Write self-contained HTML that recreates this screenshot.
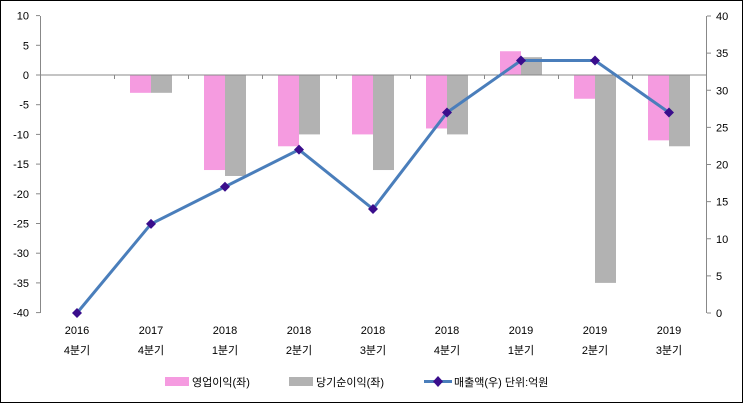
<!DOCTYPE html>
<html><head><meta charset="utf-8"><style>
body{margin:0;background:#fff}
svg text{font-family:"Liberation Sans","Noto Sans CJK KR",sans-serif;font-size:11px;fill:#000}
</style></head><body>
<svg width="743" height="403" xmlns="http://www.w3.org/2000/svg">
<rect x="0.5" y="0.5" width="742" height="402" fill="#fff" stroke="#000"/>
<g id="bars"></g>
<script>
const ns="http://www.w3.org/2000/svg",svg=document.querySelector('svg');
function el(t,a,txt){const e=document.createElementNS(ns,t);for(const k in a)e.setAttribute(k,a[k]);if(txt!==undefined)e.textContent=txt;svg.appendChild(e);return e;}
const L=v=>75-v*5.94, R=v=>313-v*7.425;
const op=[null,-3,-16,-12,-10,-9,4,-4,-11], np=[null,-3,-17,-10,-16,-10,3,-35,-12], rev=[0,12,17,22,14,27,34,34,27];
const yr=["2016","2017","2018","2018","2018","2018","2019","2019","2019"], q=["4분기","4분기","1분기","2분기","3분기","4분기","1분기","2분기","3분기"];
for(let i=0;i<9;i++){const c=77+i*74;
 if(op[i]!==null){const y1=L(op[i]);el('rect',{x:c-21,y:Math.min(y1,75),width:21,height:Math.abs(y1-75),fill:'#f59be0'});
 const y2=L(np[i]);el('rect',{x:c,y:Math.min(y2,75),width:21,height:Math.abs(y2-75),fill:'#b2b2b2'});}
 el('text',{x:c,y:334,'text-anchor':'middle'},yr[i]);
 el('text',{x:c,y:354,'text-anchor':'middle','font-size':'12'},q[i]);
}
el('line',{x1:40,y1:75,x2:707,y2:75,stroke:'#888'});
el('line',{x1:40.5,y1:16,x2:40.5,y2:313,stroke:'#888'});
el('line',{x1:706.5,y1:16,x2:706.5,y2:313,stroke:'#888'});
for(let i=1;i<9;i++)el('line',{x1:40+i*74+.5,y1:75,x2:40+i*74+.5,y2:79,stroke:'#888'});
for(let v=10;v>=-40;v-=5){const y=L(v);el('line',{x1:36,y1:y,x2:40,y2:y,stroke:'#888'});el('text',{x:29,y:y+4,'text-anchor':'end'},v);}
for(let v=0;v<=40;v+=5){const y=R(v);el('line',{x1:707,y1:y,x2:711,y2:y,stroke:'#888'});el('text',{x:716,y:y+4},v);}
el('polyline',{points:rev.map((v,i)=>(77+i*74)+','+R(v)).join(' '),fill:'none',stroke:'#4a7ebb','stroke-width':3});
rev.forEach((v,i)=>{const x=77+i*74,y=R(v);el('polygon',{points:`${x},${y-5} ${x+5},${y} ${x},${y+5} ${x-5},${y}`,fill:'#3a0d8c'});});
el('rect',{x:165,y:377,width:24,height:9,fill:'#f59be0'});
el('text',{x:192,y:386,'font-size':'12'},'영업이익(좌)');
el('rect',{x:289,y:377,width:24,height:9,fill:'#b2b2b2'});
el('text',{x:316,y:386,'font-size':'12'},'당기순이익(좌)');
el('line',{x1:424,y1:381.5,x2:452,y2:381.5,stroke:'#4a7ebb','stroke-width':3});
el('polygon',{points:'438,376 443,381.5 438,387 433,381.5',fill:'#3a0d8c'});
el('text',{x:454,y:386,'font-size':'12'},'매출액(우) 단위:억원');
</script>
</svg>
</body></html>
